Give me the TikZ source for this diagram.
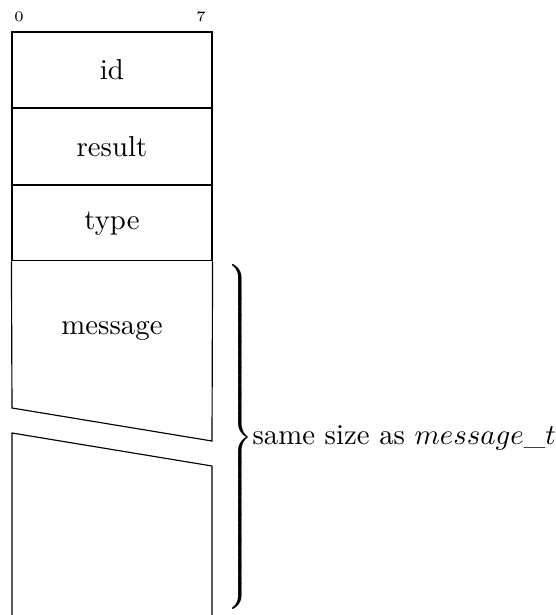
\documentclass[tikz,border=0pt]{standalone}
\usetikzlibrary{positioning}

\begin{document}
\begin{tikzpicture}[
  x=0.347pt, y=-0.347pt,
  field/.style={rectangle, draw, minimum width=69.4pt, minimum height=26.2pt, inner sep=0pt},
  bitnum/.style={font=\tiny, inner sep=0pt}
]
\useasboundingbox (0,0) rectangle (555,615);

% bit numbers
\node[bitnum] (b0) at (19,17) {0};
\node[bitnum] (b7) at (201,17) {7};

% fixed fields
\node[field] (id) at (112,69.8) {id};
\node[field, below=0pt of id] (result) {result};
\node[field, below=0pt of result] (type) {type};

% message, cut by the skipped part
\coordinate (cutl) at (12,408);
\coordinate (cutr) at (212,441);
\draw (type.south west) -- (cutl) -- (cutr) -- (type.south east);
\node (message) at (112,331) {message};

\coordinate (restl) at (12,433);
\coordinate (restr) at (212,466);
\coordinate (endl) at (12,615);
\coordinate (endr) at (212,615);
\draw (endl) -- (restl) -- (restr) -- (endr);

% brace over message and the rest
\node[anchor=west, inner sep=0pt] (brace) at (223,437)
  {$\left.\rule[-58pt]{0pt}{121pt}\right\}$};
\node[anchor=base west, inner sep=0pt] (note) at (252,444)
  {same size as $message\_t$};
\end{tikzpicture}
\end{document}
